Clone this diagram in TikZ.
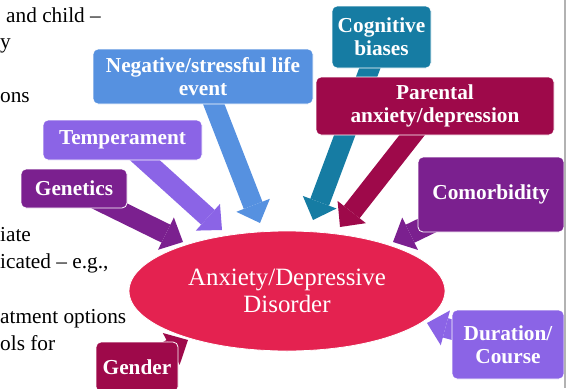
\documentclass[tikz,border=0pt]{standalone}
\usepackage{fontspec}
\setmainfont{Liberation Serif}
\usetikzlibrary{arrows.meta,shapes.geometric}
\pgfdeclarelayer{bg}
\pgfsetlayers{bg,main}
\definecolor{cBlue}{RGB}{86,145,224}
\definecolor{cLav}{RGB}{139,100,230}
\definecolor{cPurp}{RGB}{123,32,143}
\definecolor{cCrim}{RGB}{158,9,74}
\definecolor{cTeal}{RGB}{22,124,163}
\definecolor{cRed}{RGB}{228,34,80}
\begin{document}
\begin{tikzpicture}[x=1pt,y=-1pt,
  box/.style={rectangle, rounded corners=5pt, draw=white, line width=0.8pt,
    text=white, font=\fontsize{21.3}{23}\selectfont\bfseries, align=center, inner sep=0pt},
  blk/.style={line width=20pt, line cap=butt,
    -{Triangle[length=19pt,width=36pt,line width=0pt]}},
  side/.style={anchor=base west, font=\fontsize{21.3}{26}\selectfont, inner sep=0pt, text=black}]
\useasboundingbox (0,0) rectangle (567,388);
\clip (0,0) rectangle (567,388);

% left partially visible text
\node[side] (l1) at (6,23) {and child –};
\node[side] (l2) at (0,48) {y};
\node[side] (l3) at (0,102) {ons};
\node[side] (l4) at (0,241) {iate};
\node[side] (l5) at (0,268) {icated – e.g.,};
\node[side] (l6) at (0,323) {atment options};
\node[side] (l7) at (0,350) {ols for};

% central ellipse
\node[ellipse, minimum width=316pt, minimum height=120pt, inner sep=0pt,
  fill=cRed, draw=white, line width=0.8pt, text=white,
  font=\fontsize{24.9}{27}\selectfont, align=center] (dis) at (287,291)
  {Anxiety/Depressive\\Disorder};

% boxes
\node[box, fill=cBlue, minimum width=220pt, minimum height=55pt] (neg) at (203,76.5)
  {Negative/stressful life\\event};
\node[box, fill=cLav, minimum width=159pt, minimum height=40pt] (temp) at (122.5,140)
  {Temperament};
\node[box, fill=cPurp, minimum width=106pt, minimum height=39pt] (gen) at (74,188.5)
  {Genetics};
\node[box, fill=cCrim, minimum width=82pt, minimum height=50pt] (gend) at (137,367)
  {Gender};
\node[box, fill=cTeal, minimum width=99pt, minimum height=62pt] (cog) at (381.5,37)
  {Cognitive\\biases};
\node[box, fill=cCrim, minimum width=238pt, minimum height=58pt] (par) at (435,106)
  {Parental\\anxiety/depression};
\node[box, fill=cPurp, minimum width=146pt, minimum height=75pt] (com) at (491,194.5)
  {Comorbidity};
\node[box, fill=cLav, minimum width=112pt, minimum height=69pt] (dur) at (508,344.5)
  {Duration/\\Course};

% arrow tips
\coordinate (negT) at (260,223);
\coordinate (tempT) at (222,230);
\coordinate (genT) at (183,242);
\coordinate (cogT) at (313,220);
\coordinate (parT) at (340,227);
\coordinate (comT) at (393,242);
\coordinate (durT) at (427,323);
\coordinate (gendT) at (188,340);

\begin{pgfonlayer}{bg}
\draw[blk, color=cBlue] (neg.center) -- (negT);
\draw[blk, color=cLav] (temp.center) -- (tempT);
\draw[blk, color=cPurp] (gen.center) -- (genT);
\draw[blk, color=cTeal] (cog.center) -- (cogT);
\draw[blk, color=cCrim] (par.center) -- (parT);
\draw[blk, color=cPurp] (com.center) -- (comT);
\draw[blk, color=cLav] (dur.center) -- (durT);
\draw[blk, color=cCrim] (gend.center) -- (gendT);
\end{pgfonlayer}

% slide edge
\draw[gray!60, line width=1.2pt] (565,0) -- (565,388);
\end{tikzpicture}
\end{document}
